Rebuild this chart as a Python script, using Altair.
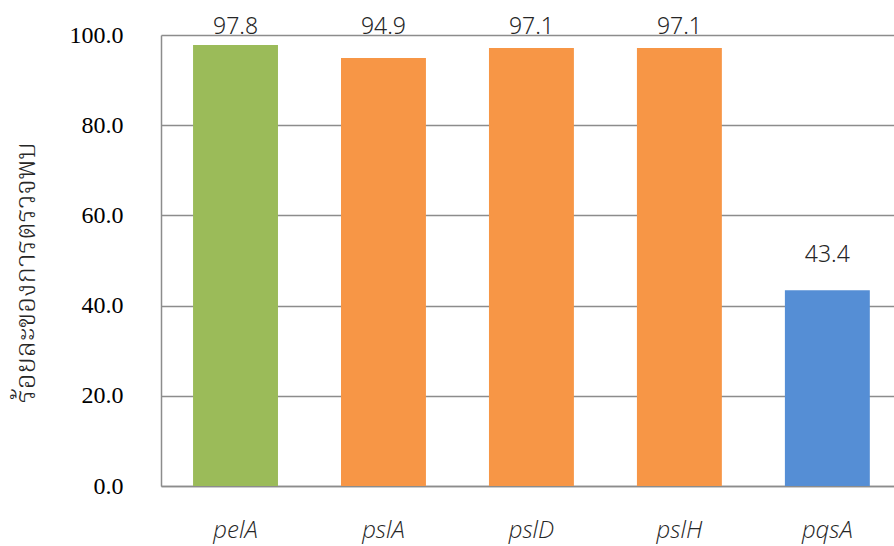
import altair as alt
import pandas as pd

# Detection rate (%) per gene
genes = ["pelA", "pslA", "pslD", "pslH", "pqsA"]
rates = [97.8, 94.9, 97.1, 97.1, 43.4]
bar_colors = ["#9BBB59", "#F79646", "#F79646", "#F79646", "#558ED5"]

df = pd.DataFrame({"gene": genes, "rate": rates, "color": bar_colors})

x_enc = alt.X(
    "gene:N",
    sort=genes,
    title=None,
    scale=alt.Scale(paddingInner=0.426, paddingOuter=0.19, align=0.57),
    axis=alt.Axis(
        labelAngle=0,
        labelFont="Open Sans",
        labelFontSize=24,
        labelFontStyle="italic",
        labelFontWeight=300,
        labelColor="#262626",
        labelBaseline="alphabetic",
        labelPadding=51,
        ticks=False,
        tickSize=0,
        domainColor="#8c8c8c",
        domainWidth=1.5,
        grid=False,
    ),
)

bars = alt.Chart(df).mark_bar().encode(
    x=x_enc,
    y=alt.Y(
        "rate:Q",
        scale=alt.Scale(domain=[0, 100], nice=False),
        title="ร้อยละของการตรวจพบ",
        axis=alt.Axis(
            values=[0, 20, 40, 60, 80, 100],
            format=".1f",
            labelFont="Liberation Serif",
            labelFontSize=24,
            labelFontWeight="normal",
            labelColor="#000000",
            labelPadding=38,
            ticks=False,
            tickSize=0,
            domainColor="#8c8c8c",
            domainWidth=1.5,
            gridColor="#8c8c8c",
            gridWidth=1.5,
            titleFont="Noto Serif Thai, Noto Sans Thai, sans-serif",
            titleFontSize=28,
            titleFontWeight=300,
            titleColor="#262626",
            titleAngle=-90,
            titleBaseline="middle",
            titleAlign="center",
            titleX=-135,
            titleY=237,
        ),
    ),
    color=alt.Color("color:N", scale=None),
)

# Value labels sit above each bar, kept inside the top of the plot area
labels = alt.Chart(df).transform_calculate(
    label_pos="min(datum.rate + 6.3, 100.33)"
).mark_text(
    font="Noto Sans",
    fontSize=23,
    fontWeight=300,
    color="#262626",
    baseline="alphabetic",
    align="center",
).encode(
    x=alt.X("gene:N", sort=genes),
    y=alt.Y("label_pos:Q", scale=alt.Scale(domain=[0, 100], nice=False)),
    text=alt.Text("rate:Q", format=".1f"),
)

chart = (
    alt.layer(bars, labels)
    .properties(
        width=733,
        height=451,
        autosize=alt.AutoSizeParams(type="none"),
        padding={"left": 161, "top": 35, "right": 0, "bottom": 60},
        background="white",
    )
    .configure_view(stroke=None)
)

chart.save("out.html", embed_options={"renderer": "svg", "actions": False})
